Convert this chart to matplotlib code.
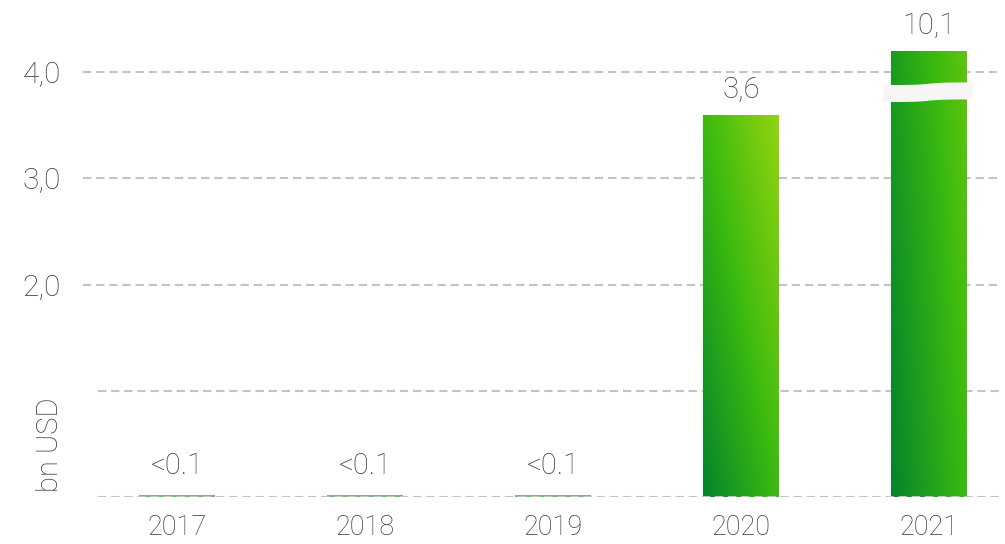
import numpy as np
import matplotlib.pyplot as plt
from matplotlib.colors import LinearSegmentedColormap
from matplotlib.patches import Polygon

plt.rcParams['font.family'] = ['Roboto', 'DejaVu Sans']

# data
years = ['2017', '2018', '2019', '2020', '2021']
values = [0.02, 0.02, 0.02, 3.6, 10.1]
value_labels = ['<0.1', '<0.1', '<0.1', '3,6', '10,1']
shown_cap = 4.2            # top of the broken bar on the axis
y_ticks = [0, 1, 2, 3, 4]
y_tick_labels = ['', '', '2,0', '3,0', '4,0']

grad = LinearSegmentedColormap.from_list('g', ['#03842b', '#3cba10', '#93d40f'])
txt = '#3a3a3a'
fw = 'light'

fig = plt.figure(figsize=(10.05, 5.44), dpi=100)
ax = fig.add_axes([83 / 1005, 47 / 544, 917 / 1005, 497 / 544])
ax.set_xlim(-0.5, 4.378)
ax.set_ylim(0, 4.678)

width = 0.404
for i, (v, lab) in enumerate(zip(values, value_labels)):
    h = min(v, shown_cap)
    if v < 0.1:
        ax.bar(i, 0.02, width, color='#6cbf6c', zorder=2)
        ax.text(i, 0.16, lab, ha='center', va='bottom', fontsize=21,
                fontweight=fw, color=txt)
        continue
    bar = ax.bar(i, h, width, color='none', zorder=2)[0]
    # gradient: horizontal + vertical relative to the true value
    u = np.linspace(0, 1, 100)[None, :]
    vv = np.linspace(0, h / v, 200)[:, None]
    img = grad((u + vv) / 2)
    im = ax.imshow(img, extent=[i - width / 2, i + width / 2, 0, h],
                   origin='lower', aspect='auto', zorder=2, interpolation='bilinear')
    im.set_clip_path(bar)
    ax.text(i, h + 0.1, lab, ha='center', va='bottom', fontsize=21,
            fontweight=fw, color=txt)

# axis break on the tall bar
i = values.index(max(values))
xs = np.linspace(i - 0.245, i + 0.235, 80)
step = np.tanh((xs - i) * 14) * 0.012
top = 3.89 + step
bot = 3.73 + step
pts = np.vstack([np.column_stack([xs, top]), np.column_stack([xs[::-1], bot[::-1]])])
ax.add_patch(Polygon(pts, closed=True, facecolor='#f6f6f6', edgecolor='none', zorder=3))

# dashed grid lines
for t, lab in zip(y_ticks, y_tick_labels):
    ax.axhline(t, xmin=0 if lab else 15 / 917, color='#c3c3c3', lw=1.5,
               linestyle=(0, (4, 2.3)), zorder=5 if t == 0 else 1)

ax.set_yticks(y_ticks)
ax.set_yticklabels(y_tick_labels)
ax.set_xticks(range(len(years)))
ax.set_xticklabels(years)
ax.tick_params(axis='y', length=0, pad=16, labelsize=21.5, labelcolor=txt)
ax.tick_params(axis='x', length=0, pad=12, labelsize=19.5, labelcolor=txt)
for lab in ax.get_xticklabels() + ax.get_yticklabels():
    lab.set_fontweight(fw)
for s in ax.spines.values():
    s.set_visible(False)

fig.text(50 / 1005, 1 - 445 / 544, 'bn USD', rotation=90, ha='center', va='center',
         fontsize=21, fontweight=fw, color=txt)

fig.savefig('out.png', dpi=100)
